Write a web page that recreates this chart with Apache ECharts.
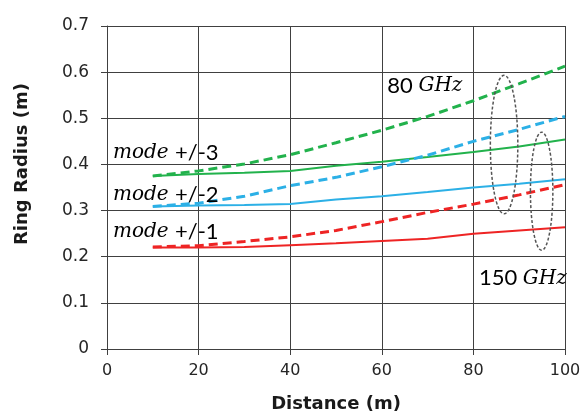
<!DOCTYPE html>
<html>
<head>
<meta charset="utf-8">
<script src="https://cdn.jsdelivr.net/npm/echarts@6/dist/echarts.min.js"></script>
<style>
html, body { margin: 0; padding: 0; background: #fff; }
#main { width: 585px; height: 418px; }
</style>
</head>
<body>
<div id="main"></div>
<script>
// distance (m)
var distance = [10, 20, 30, 40, 50, 60, 70, 80, 90, 100];
// ring radius (m), 80 GHz dashed, 150 GHz solid
var mode3_80 = [0.375, 0.386, 0.401, 0.421, 0.447, 0.474, 0.504, 0.538, 0.575, 0.613];
var mode3_150 = [0.375, 0.379, 0.382, 0.386, 0.397, 0.406, 0.416, 0.427, 0.439, 0.454];
var mode2_80 = [0.309, 0.316, 0.331, 0.354, 0.372, 0.395, 0.420, 0.450, 0.476, 0.504];
var mode2_150 = [0.309, 0.311, 0.312, 0.314, 0.324, 0.331, 0.340, 0.350, 0.358, 0.368];
var mode1_80 = [0.221, 0.224, 0.233, 0.243, 0.257, 0.276, 0.296, 0.314, 0.334, 0.356];
var mode1_150 = [0.220, 0.220, 0.221, 0.225, 0.229, 0.234, 0.239, 0.250, 0.257, 0.264];

var xTicks = [0, 20, 40, 60, 80, 100];
var yTicks = [0, 0.1, 0.2, 0.3, 0.4, 0.5, 0.6, 0.7];

// annotation texts, anchored in data units [x, y, text]
var notes = [
    [1.3, 0.425, '{i|mode }{n|+/-3}'],
    [1.3, 0.335, '{i|mode }{n|+/-2}'],
    [1.3, 0.254, '{i|mode }{n|+/-1}'],
    [61.2, 0.570, '{n|80 }{i|GHz}'],
    [81.2, 0.153, '{n|150 }{i|GHz}']
];
// dotted ellipses [cx, cy, rx, ry] in data units
var rings = [
    [86.7, 0.443, 3.0, 0.150],
    [94.9, 0.342, 2.45, 0.128]
];

var green = '#22b24c', blue = '#2cb0e6', red = '#ee2424';

function pairs(ys) {
    return distance.map(function (d, i) { return [d, ys[i]]; });
}
function lineSeries(name, ys, color, dashed) {
    return {
        name: name,
        type: 'line',
        data: pairs(ys),
        symbol: 'none',
        smooth: false,
        lineStyle: {
            color: color,
            width: dashed ? 3 : 2,
            type: dashed ? [9, 5] : 'solid'
        },
        z: dashed ? 4 : 3
    };
}

var axisGray = '#404040';
var textDark = '#1a1a1a';
var richText = {
    i: { fontFamily: 'DejaVu Serif', fontStyle: 'italic', fontSize: 20, color: textDark },
    n: { fontFamily: 'Lato', fontSize: 22, color: textDark }
};

var myChart = echarts.init(document.getElementById('main'));
var option = {
    backgroundColor: '#fff',
    animation: false,
    grid: { left: 107, right: 20, top: 26, bottom: 65 },
    xAxis: {
        type: 'value', min: 0, max: 100, interval: 20,
        name: 'Distance (m)', nameLocation: 'middle', nameGap: 46,
        nameTextStyle: { fontFamily: 'DejaVu Sans', fontWeight: 'bold', fontSize: 18, color: textDark },
        axisLine: { lineStyle: { color: axisGray, width: 1 } },
        axisTick: { show: true, length: 6, lineStyle: { color: axisGray } },
        axisLabel: {
            margin: 14, fontFamily: 'DejaVu Sans', fontSize: 16, color: '#262626',
            formatter: function (v) { return xTicks.indexOf(v) >= 0 ? String(v) : ''; }
        },
        splitLine: { show: true, lineStyle: { color: axisGray, width: 1 } }
    },
    yAxis: {
        type: 'value', min: 0, max: 0.7, interval: 0.1,
        axisLine: { show: true, lineStyle: { color: axisGray, width: 1 } },
        axisTick: { show: true, length: 6, lineStyle: { color: axisGray } },
        axisLabel: {
            margin: 18, fontFamily: 'DejaVu Sans', fontSize: 17, color: '#262626',
            formatter: function (v) {
                var r = Math.round(v * 10) / 10;
                return r === 0 ? '0' : r.toFixed(1);
            }
        },
        splitLine: { show: true, lineStyle: { color: axisGray, width: 1 } }
    },
    graphic: [{
        type: 'text',
        left: 13, top: 83,
        rotation: Math.PI / 2,
        style: {
            text: 'Ring Radius (m)',
            fontFamily: 'DejaVu Sans', fontWeight: 'bold', fontSize: 18,
            fill: textDark
        }
    }],
    series: [
        lineSeries('mode3 150GHz', mode3_150, green, false),
        lineSeries('mode3 80GHz', mode3_80, green, true),
        lineSeries('mode2 150GHz', mode2_150, blue, false),
        lineSeries('mode2 80GHz', mode2_80, blue, true),
        lineSeries('mode1 150GHz', mode1_150, red, false),
        lineSeries('mode1 80GHz', mode1_80, red, true),
        {
            type: 'custom',
            data: rings,
            z: 6,
            renderItem: function (params, api) {
                var c = api.coord([api.value(0), api.value(1)]);
                var s = api.size([api.value(2), api.value(3)]);
                return {
                    type: 'ellipse',
                    shape: { cx: c[0], cy: c[1], rx: s[0], ry: s[1] },
                    style: { fill: 'none', stroke: '#555', lineWidth: 1.5, lineDash: [3, 2] }
                };
            }
        },
        {
            type: 'custom',
            data: notes,
            z: 7,
            renderItem: function (params, api) {
                var c = api.coord([api.value(0), api.value(1)]);
                return {
                    type: 'text',
                    x: c[0], y: c[1],
                    style: {
                        text: notes[params.dataIndex][2],
                        rich: richText,
                        verticalAlign: 'middle',
                        align: 'left'
                    }
                };
            }
        }
    ]
};
myChart.setOption(option);
</script>
</body>
</html>
